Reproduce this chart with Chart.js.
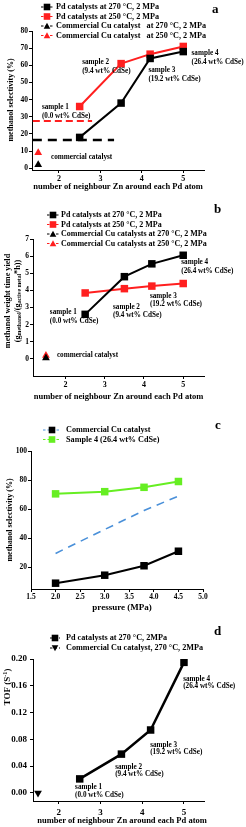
<!DOCTYPE html>
<html>
<head>
<meta charset="utf-8">
<script src="https://cdn.jsdelivr.net/npm/chart.js@4.4.0/dist/chart.umd.min.js"></script>
<style>
  html, body { margin: 0; padding: 0; background: #fff; }
  body { width: 246px; height: 827px; position: relative; overflow: hidden; }
  canvas { position: absolute; left: 0; }
</style>
</head>
<body>
<canvas id="pa" width="246" height="200" style="top:0"></canvas>
<canvas id="pb" width="246" height="210" style="top:200px"></canvas>
<canvas id="pc" width="246" height="205" style="top:410px"></canvas>
<canvas id="pd" width="246" height="212" style="top:615px"></canvas>
<script>
// number of neighbour Zn around each Pd atom (samples 1-4)
const zn = [2.5, 3.5, 4.2, 5];
const commercialX = [1.5];

// a: methanol selectivity (%)
const selPd270 = [18, 38, 64, 68];
const selPd250 = [36, 61, 66.5, 71];
const selCu270 = [2];
const selCu250 = [9];
const baseX270 = [1.37, 3.33];
const base270 = [16.5, 16.5];
const baseX250 = [1.37, 2.8];
const base250 = [27.5, 27.5];

// b: methanol weight time yield
const ytyPd270 = [2.6, 4.8, 5.55, 6.05];
const ytyPd250 = [3.85, 4.1, 4.25, 4.4];
const ytyCu270 = [0.05];
const ytyCu250 = [0.2];

// c: selectivity vs pressure
const pressure = [2.0, 3.0, 3.8, 4.5];
const selCuP = [9, 14.5, 21, 31];
const selS4P = [70.5, 72, 75, 79];
const selDashP = [29.5, 46, 59, 69];

// d: TOF
const tofPd270 = [0.021, 0.058, 0.094, 0.195];
const tofCu270 = [0];

const sampleNames = ['sample 1', 'sample 2', 'sample 3', 'sample 4'];
const sampleCdSe = ['(0.0 wt% CdSe)', '(9.4 wt% CdSe)', '(19.2 wt% CdSe)', '(26.4 wt% CdSe)'];

const xTicksZn = [2, 3, 4, 5];
const yTicksA = [0, 10, 20, 30, 40, 50, 60, 70, 80];
const yTicksB = [0, 1, 2, 3, 4, 5, 6, 7];
const xTicksC = [1.5, 2.0, 2.5, 3.0, 3.5, 4.0, 4.5, 5.0];
const yTicksC = [20, 40, 60, 80, 100];
const yTicksD = [0, 0.04, 0.08, 0.12, 0.16, 0.20];

const RED = '#ff1f1f';
const GREEN = '#66ee22';
const BLUE = '#4a90d9';
const SERIF = '"Liberation Serif", "DejaVu Serif", serif';

Chart.defaults.font.family = SERIF;
Chart.defaults.font.weight = 'bold';
Chart.defaults.color = '#000';

const pts = (xs, ys) => ys.map((y, i) => ({ x: xs[i], y: y }));

function marker(ctx, style, x, y, r, color, down) {
  ctx.fillStyle = color;
  ctx.beginPath();
  if (style === 'rect') {
    ctx.rect(x - r, y - r, 2 * r, 2 * r);
  } else {
    const d = down ? -1 : 1;
    ctx.moveTo(x, y - d * r);
    ctx.lineTo(x + r, y + d * r * 0.8);
    ctx.lineTo(x - r, y + d * r * 0.8);
    ctx.closePath();
  }
  ctx.fill();
}

// letter, legend, axis titles and sample notes
const decor = {
  id: 'decor',
  afterDraw(chart, args, o) {
    const { ctx, chartArea: ca, scales: { x, y } } = chart;
    ctx.save();
    ctx.fillStyle = '#000';
    ctx.textBaseline = 'middle';
    ctx.textAlign = 'left';

    ctx.font = 'bold 13px ' + SERIF;
    ctx.fillText(o.letter[0], o.letter[1], o.letter[2]);

    // legend
    const lg = o.legend;
    ctx.font = 'bold ' + lg.size + 'px ' + SERIF;
    let row = 0;
    chart.data.datasets.forEach(ds => {
      if (!ds.legend) return;
      const ly = lg.y + row * lg.step;
      row++;
      ctx.strokeStyle = ds.legendDash || ds.borderColor;
      ctx.lineWidth = 1;
      ctx.setLineDash([2.5, 2]);
      ctx.beginPath();
      ctx.moveTo(lg.x - lg.half, ly);
      ctx.lineTo(lg.x + lg.half, ly);
      ctx.stroke();
      ctx.setLineDash([]);
      marker(ctx, ds.pointStyle, lg.x, ly, 3.3, ds.backgroundColor, ds.pointRotation === 180);
      ctx.fillStyle = '#000';
      ctx.fillText(ds.label, lg.text, ly);
    });

    // x title
    ctx.textAlign = 'center';
    ctx.font = 'bold ' + o.xTitle.size + 'px ' + SERIF;
    ctx.fillText(o.xTitle.text, o.xTitle.x || (ca.left + ca.right) / 2, o.xTitle.y);

    // y title(s), rotated, with sub/superscript pieces
    o.yTitle.forEach(t => {
      ctx.save();
      ctx.translate(t.x, t.y);
      ctx.rotate(-Math.PI / 2);
      const parts = t.parts;
      const fs = p => (p.sub || p.sup ? t.size * 0.7 : t.size);
      let total = 0;
      parts.forEach(p => {
        ctx.font = 'bold ' + fs(p) + 'px ' + SERIF;
        p.w = ctx.measureText(p.s).width;
        total += p.w;
      });
      let cx = -total / 2;
      ctx.textAlign = 'left';
      parts.forEach(p => {
        ctx.font = 'bold ' + fs(p) + 'px ' + SERIF;
        ctx.fillText(p.s, cx, p.sub ? 2 : (p.sup ? -3 : 0));
        cx += p.w;
      });
      ctx.restore();
    });

    // sample notes
    ctx.textAlign = 'left';
    ctx.font = 'bold ' + o.noteSize + 'px ' + SERIF;
    (o.notes || []).forEach(n => {
      const px = x.getPixelForValue(n.x);
      const py = y.getPixelForValue(n.y);
      n.lines.forEach((l, i) => ctx.fillText(l, px, py + i * o.noteGap));
    });
    ctx.restore();
  }
};

function axis(min, max, ticks, size, horiz, fontSize, pad, fmt) {
  return {
    type: 'linear',
    min: min,
    max: max,
    afterBuildTicks: s => { s.ticks = ticks.map(v => ({ value: v })); },
    afterFit: s => { if (horiz) s.height = size; else s.width = size; },
    grid: { drawOnChartArea: false, drawTicks: true, tickLength: 3, color: '#000' },
    border: { color: '#000', width: 1 },
    ticks: {
      font: { size: fontSize, weight: 'bold' },
      padding: pad,
      color: '#000',
      maxRotation: 0,
      autoSkip: false,
      callback: fmt || (v => String(v))
    }
  };
}

function make(id, datasets, scales, padding, decorOpts) {
  return new Chart(document.getElementById(id), {
    type: 'line',
    data: { datasets: datasets },
    options: {
      responsive: false,
      animation: false,
      layout: { padding: padding },
      elements: { line: { tension: 0 } },
      scales: scales,
      plugins: { legend: { display: false }, tooltip: { enabled: false }, decor: decorOpts }
    },
    plugins: [decor]
  });
}

function series(label, xs, ys, color, style, extra) {
  return Object.assign({
    label: label,
    data: pts(xs, ys),
    borderColor: color,
    backgroundColor: color,
    pointBackgroundColor: color,
    pointBorderWidth: 0,
    pointStyle: style,
    pointRadius: style === 'rect' ? 5.3 : 4.5,
    borderWidth: 2,
    legend: true
  }, extra || {});
}

function dashed(xs, ys, color, dash, width) {
  return {
    data: pts(xs, ys),
    borderColor: color,
    backgroundColor: color,
    borderDash: dash,
    borderWidth: width,
    pointRadius: 0,
    legend: false
  };
}

const notes = (pos) => pos.map((p, i) => ({ x: p[0], y: p[1], lines: [sampleNames[i], sampleCdSe[i]] }));

// ---- panel a ----
make('pa', [
  series('Pd catalysts at 270 °C, 2 MPa', zn, selPd270, '#000', 'rect'),
  series('Pd catalysts at 250 °C, 2 MPa', zn, selPd250, RED, 'rect'),
  series('Commercial Cu catalyst   at 270 °C, 2 MPa', commercialX, selCu270, '#000', 'triangle', { showLine: false }),
  series('Commercial Cu catalyst   at 250 °C, 2 MPa', commercialX, selCu250, RED, 'triangle', { showLine: false }),
  dashed(baseX270, base270, '#000', [9, 6], 2.5),
  dashed(baseX250, base250, RED, [7, 4], 2)
], {
  x: axis(1.35, 5.5, xTicksZn, 30, true, 8, 1),
  y: axis(-1, 80, yTicksA, 32, false, 7.5, 1)
}, { top: 31, right: 42, left: 0, bottom: 0 }, {
  letter: ['a', 212, 10],
  legend: { x: 47, half: 6, text: 56, y: 7, step: 9.5, size: 8.2 },
  xTitle: { text: 'number of neighbour Zn around each Pd atom', y: 187, size: 8.5 },
  yTitle: [{ x: 11, y: 100, size: 8, parts: [{ s: 'methanol selectivity (%)' }] }],
  noteSize: 7.2, noteGap: 9,
  notes: notes([[1.59, 35.7], [2.56, 61.9], [4.16, 57.3], [5.2, 67.2]])
    .concat([{ x: 1.81, y: 6.6, lines: ['commercial catalyst'] }])
});

// ---- panel b ----
make('pb', [
  series('Pd catalysts at 270 °C, 2 MPa', zn, ytyPd270, '#000', 'rect'),
  series('Pd catalysts at 250 °C, 2 MPa', zn, ytyPd250, RED, 'rect'),
  series('Commercial Cu catalysts at 270 °C, 2 MPa', commercialX, ytyCu270, '#000', 'triangle', { showLine: false }),
  series('Commercial Cu catalysts at 250 °C, 2 MPa', commercialX, ytyCu250, RED, 'triangle', { showLine: false })
], {
  x: axis(1.17, 5.53, xTicksZn, 34, true, 8, 1),
  y: axis(-1, 7, yTicksB, 33, false, 7.5, 1)
}, { top: 39, right: 42, left: 0, bottom: 0 }, {
  letter: ['b', 214, 10],
  legend: { x: 53, half: 6, text: 61, y: 15, step: 9.5, size: 8 },
  xTitle: { text: 'number of neighbour Zn around each Pd atom', y: 197, size: 8.5 },
  yTitle: [
    { x: 8, y: 101, size: 8.2, parts: [{ s: 'methanol weight time yield' }] },
    { x: 18, y: 101, size: 8.2, parts: [{ s: '(g' }, { s: 'methanol', sub: true }, { s: '/(g' }, { s: 'active metal', sub: true }, { s: '*h))' }] }
  ],
  noteSize: 7.2, noteGap: 8.5,
  notes: notes([[1.6, 2.72], [3.21, 3.04], [4.15, 3.67], [4.95, 5.63]])
    .concat([{ x: 1.78, y: 0.21, lines: ['commercial catalyst'] }])
});

// ---- panel c ----
make('pc', [
  series('Commercial Cu catalyst', pressure, selCuP, '#000', 'rect', { legendDash: BLUE }),
  series('Sample 4 (26.4 wt% CdSe)', pressure, selS4P, GREEN, 'rect'),
  dashed(pressure, selDashP, BLUE, [8, 6], 1.6)
], {
  x: axis(1.5, 5.0, xTicksC, 26, true, 7.5, 1, v => v.toFixed(1)),
  y: axis(5, 100, yTicksC, 31, false, 7.5, 1)
}, { top: 41, right: 43, left: 0, bottom: 0 }, {
  letter: ['c', 215, 16],
  legend: { x: 52, half: 9, text: 66, y: 20, step: 9.5, size: 8.2 },
  xTitle: { text: 'pressure (MPa)', x: 122, y: 198, size: 9 },
  yTitle: [{ x: 10, y: 110, size: 8, parts: [{ s: 'methanol selectivity (%)' }] }],
  noteSize: 7, noteGap: 8.5,
  notes: []
});

// ---- panel d ----
make('pd', [
  series('Pd catalysts at 270 °C, 2MPa', zn, tofPd270, '#000', 'rect', { borderWidth: 2.5 }),
  series('Commercial Cu catalyst, 270 °C, 2MPa', commercialX, tofCu270, '#000', 'triangle', { showLine: false, pointRotation: 180, rotation: 180 })
], {
  x: axis(1.38, 5.48, xTicksZn, 26, true, 9, 3),
  y: axis(-0.012, 0.2, yTicksD, 33, false, 9, 3, v => v.toFixed(2))
}, { top: 44, right: 42, left: 0, bottom: 0 }, {
  letter: ['d', 214, 17],
  legend: { x: 55, half: 5, text: 66, y: 23, step: 10, size: 8.2 },
  xTitle: { text: 'number of neighbour Zn around each Pd atom', x: 122, y: 206, size: 8.5 },
  yTitle: [{ x: 8, y: 72, size: 9, parts: [{ s: 'TOF (S' }, { s: '-1', sup: true }, { s: ')' }] }],
  noteSize: 7.2, noteGap: 7.5,
  notes: notes([[2.39, 0.0085], [3.35, 0.039], [4.19, 0.0716], [4.98, 0.170]])
});
</script>
</body>
</html>
